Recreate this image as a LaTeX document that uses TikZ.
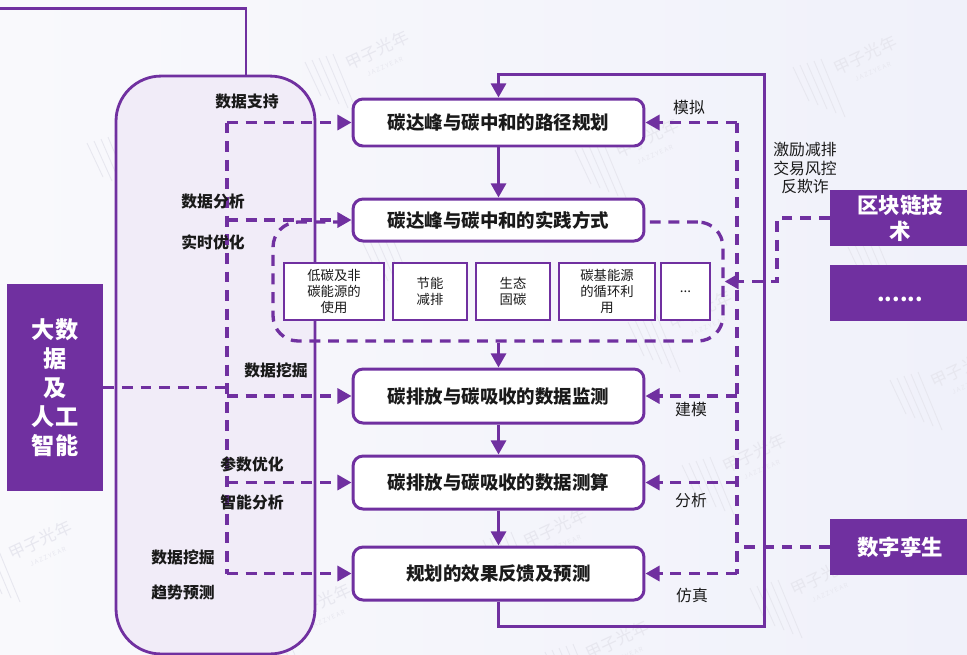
\documentclass[tikz,border=0pt]{standalone}
\usepackage{fontspec}
\setmainfont{Noto Sans CJK SC}
\definecolor{carbonPurple}{HTML}{7030A0}
\definecolor{carbonPale}{HTML}{F1ECF8}
\definecolor{carbonInk}{HTML}{1A1A1A}
\definecolor{carbonMark}{HTML}{E7E7EF}
\definecolor{carbonBgLeft}{HTML}{F9F9FC}
\definecolor{carbonBgRight}{HTML}{F0F1FA}
\usetikzlibrary{arrows.meta, calc}
\tikzset{
    mainbox/.style={draw=carbonPurple, line width=1.7pt, fill=white, rounded corners=0.2cm, minimum width=5.82cm, inner sep=0pt, font=\fontsize{10.5}{12}\selectfont\bfseries, text=carbonInk},
    subbox/.style={draw=carbonPurple, line width=1.6pt, fill=white, minimum height=1.14cm, inner sep=0pt, align=center, font=\fontsize{7.6}{9.2}\selectfont, text=carbonInk},
    techbox/.style={fill=carbonPurple, minimum width=2.8cm, minimum height=1.12cm, inner sep=0pt, align=center, text=white, font=\fontsize{12.2}{15}\selectfont\bfseries},
    flowline/.style={carbonPurple, line width=1.7pt, -{Triangle[length=8pt,width=8.5pt]}},
    plainline/.style={carbonPurple, line width=1.7pt},
    dashline/.style={carbonPurple, line width=1.9pt, dash pattern=on 6.2pt off 4.4pt},
    dasharrow/.style={dashline, -{Triangle[length=8pt,width=8.5pt]}},
    boldlabel/.style={font=\fontsize{9}{11}\selectfont\bfseries, text=carbonInk},
    thinlabel/.style={font=\fontsize{9}{11}\selectfont, text=carbonInk, align=center},
    markstroke/.style={carbonMark, line width=0.5pt}
}
\newcommand{\markstrokes}[2]{%
    \foreach \k in {0,1,2,3,4}
        \draw[markstroke] ($(#1,#2)+(7*\k,-2*\k)$) -- ++(16+2*\k,34+6*\k);
}
\begin{document}
\begin{tikzpicture}[x=0.02cm, y=-0.02cm]
    \useasboundingbox (0,0) rectangle (967,654);
    \shade[left color=carbonBgLeft, right color=carbonBgRight] (0,0) rectangle (967,654);

    % Watermarks
    \foreach \mx/\my in {363/243, 848/247} {
        \markstrokes{\mx}{\my}
    }
    \foreach \mx/\my [count=\i] in {305/62, 87/143, 135/307, 793/67, 575/150, 628/322, 890/380, 682/465, 750/588, 188/477, 247/615, 483/540, 545/652, -32/552} {
        \markstrokes{\mx}{\my}
        \node[rotate=25, text=carbonMark, font=\fontsize{9.5}{10}\selectfont, align=center] (mark\i) at ($(\mx,\my)+(75,-6)$) {甲子光年\\[-2pt]{\fontsize{3.5}{4}\selectfont J A Z Z Y E A R}};
    }

    % Data column
    \node[draw=carbonPurple, line width=1.6pt, fill=carbonPale, rounded corners=0.9cm, minimum width=3.98cm, minimum height=11.56cm, inner sep=0pt] (supportColumn) at (215.5,365) {};
    \coordinate (topLeft) at (0,8);
    \coordinate (topTurn) at (246,8);
    \draw[plainline] (topLeft) -- (topTurn) -- (topTurn |- supportColumn.north);

    % Practice frame and its small boxes
    \node[draw=carbonPurple, dashline, rounded corners=0.5cm, minimum width=9cm, minimum height=2.38cm, inner sep=0pt] (practiceFrame) at (498,281.5) {};
    \node[subbox, minimum width=2cm] (lowCarbon) at (334,291.5) {低碳及非\\碳能源的\\使用};
    \node[subbox, minimum width=1.48cm] (saving) at (430,291.5) {节能\\减排};
    \node[subbox, minimum width=1.48cm] (fixing) at (513,291.5) {生态\\固碳};
    \node[subbox, minimum width=1.92cm] (recycling) at (607,291.5) {碳基能源\\的循环利\\用};
    \node[subbox, minimum width=0.98cm] (others) at (685.5,291.5) {...};

    % Main chain
    \node[mainbox, minimum height=0.94cm] (pathBox) at (498.5,122.5) {碳达峰与碳中和的路径规划};
    \node[mainbox, minimum height=0.84cm] (practiceBox) at (498.5,220) {碳达峰与碳中和的实践方式};
    \node[mainbox, minimum height=1.08cm] (monitorBox) at (498.5,396) {碳排放与碳吸收的数据监测};
    \node[mainbox, minimum height=1.06cm] (measureBox) at (498.5,482.5) {碳排放与碳吸收的数据测算};
    \node[mainbox, minimum height=1.06cm] (forecastBox) at (498.5,573.5) {规划的效果反馈及预测};

    \draw[flowline] (pathBox) -- (practiceBox);
    \draw[flowline] (practiceFrame.south -| monitorBox.north) -- (monitorBox.north);
    \draw[flowline] (monitorBox) -- (measureBox);
    \draw[flowline] (measureBox) -- (forecastBox);

    % Feedback loop
    \coordinate (loopSE) at (764,626);
    \coordinate (loopNE) at (764,74);
    \draw[flowline] (forecastBox.south) |- (loopSE) -- (loopNE) -| (pathBox.north);

    % Technology boxes
    \node[techbox, minimum width=1.92cm, minimum height=4.14cm, font=\fontsize{13.2}{16.6}\selectfont\bfseries] (dataBox) at (55,387.5) {大数\\据\\及\\人工\\智能};
    \node[techbox] (chainBox) at (900,218) {区块链技\\术};
    \node[techbox] (moreBox) at (900,293) {\vphantom{数}......};
    \node[techbox] (twinBox) at (900,547) {数字孪生};

    % Left bus
    \coordinate (busLeft) at (227,0);
    \draw[dashline] (dataBox.east) -- (busLeft |- dataBox.east);
    \draw[dashline] (busLeft |- pathBox.west) -- (busLeft |- forecastBox.west);
    \foreach \target in {pathBox, practiceBox, monitorBox, measureBox, forecastBox}
        \draw[dasharrow] (busLeft |- \target.west) -- (\target.west);

    % Right bus
    \coordinate (busRight) at (737,0);
    \draw[dashline] (busRight |- pathBox.east) -- (busRight |- forecastBox.east);
    \foreach \target in {pathBox, monitorBox, measureBox, forecastBox}
        \draw[dasharrow] (busRight |- \target.east) -- (\target.east);
    \draw[dashline] (twinBox.west) -- (busRight |- twinBox.west);

    % Blockchain link
    \coordinate (chainTurn) at (777,0);
    \draw[dasharrow] (chainBox.west) -- (chainTurn |- chainBox.west) -- (chainTurn |- practiceFrame.east) -- (practiceFrame.east);

    % Labels
    \node[boldlabel] (lblSupport) at (247,102) {数据支持};
    \node[boldlabel] (lblAnalysis) at (213,202) {数据分析};
    \node[boldlabel] (lblRealtime) at (213,242) {实时优化};
    \node[boldlabel] (lblMining) at (276,370) {数据挖掘};
    \node[boldlabel] (lblParams) at (252,464) {参数优化};
    \node[boldlabel] (lblSmart) at (252,502) {智能分析};
    \node[boldlabel] (lblMiningB) at (183,557) {数据挖掘};
    \node[boldlabel] (lblTrend) at (183,593) {趋势预测};

    \node[thinlabel] (lblSimulate) at (689,107) {模拟};
    \node[thinlabel, font=\fontsize{9}{10.8}\selectfont] (lblIncentive) at (805,168) {激励减排\\交易风控\\反欺诈};
    \node[thinlabel] (lblModel) at (691,409) {建模};
    \node[thinlabel] (lblAnalyse) at (691,501) {分析};
    \node[thinlabel] (lblEmulate) at (692,595) {仿真};
\end{tikzpicture}
\end{document}
